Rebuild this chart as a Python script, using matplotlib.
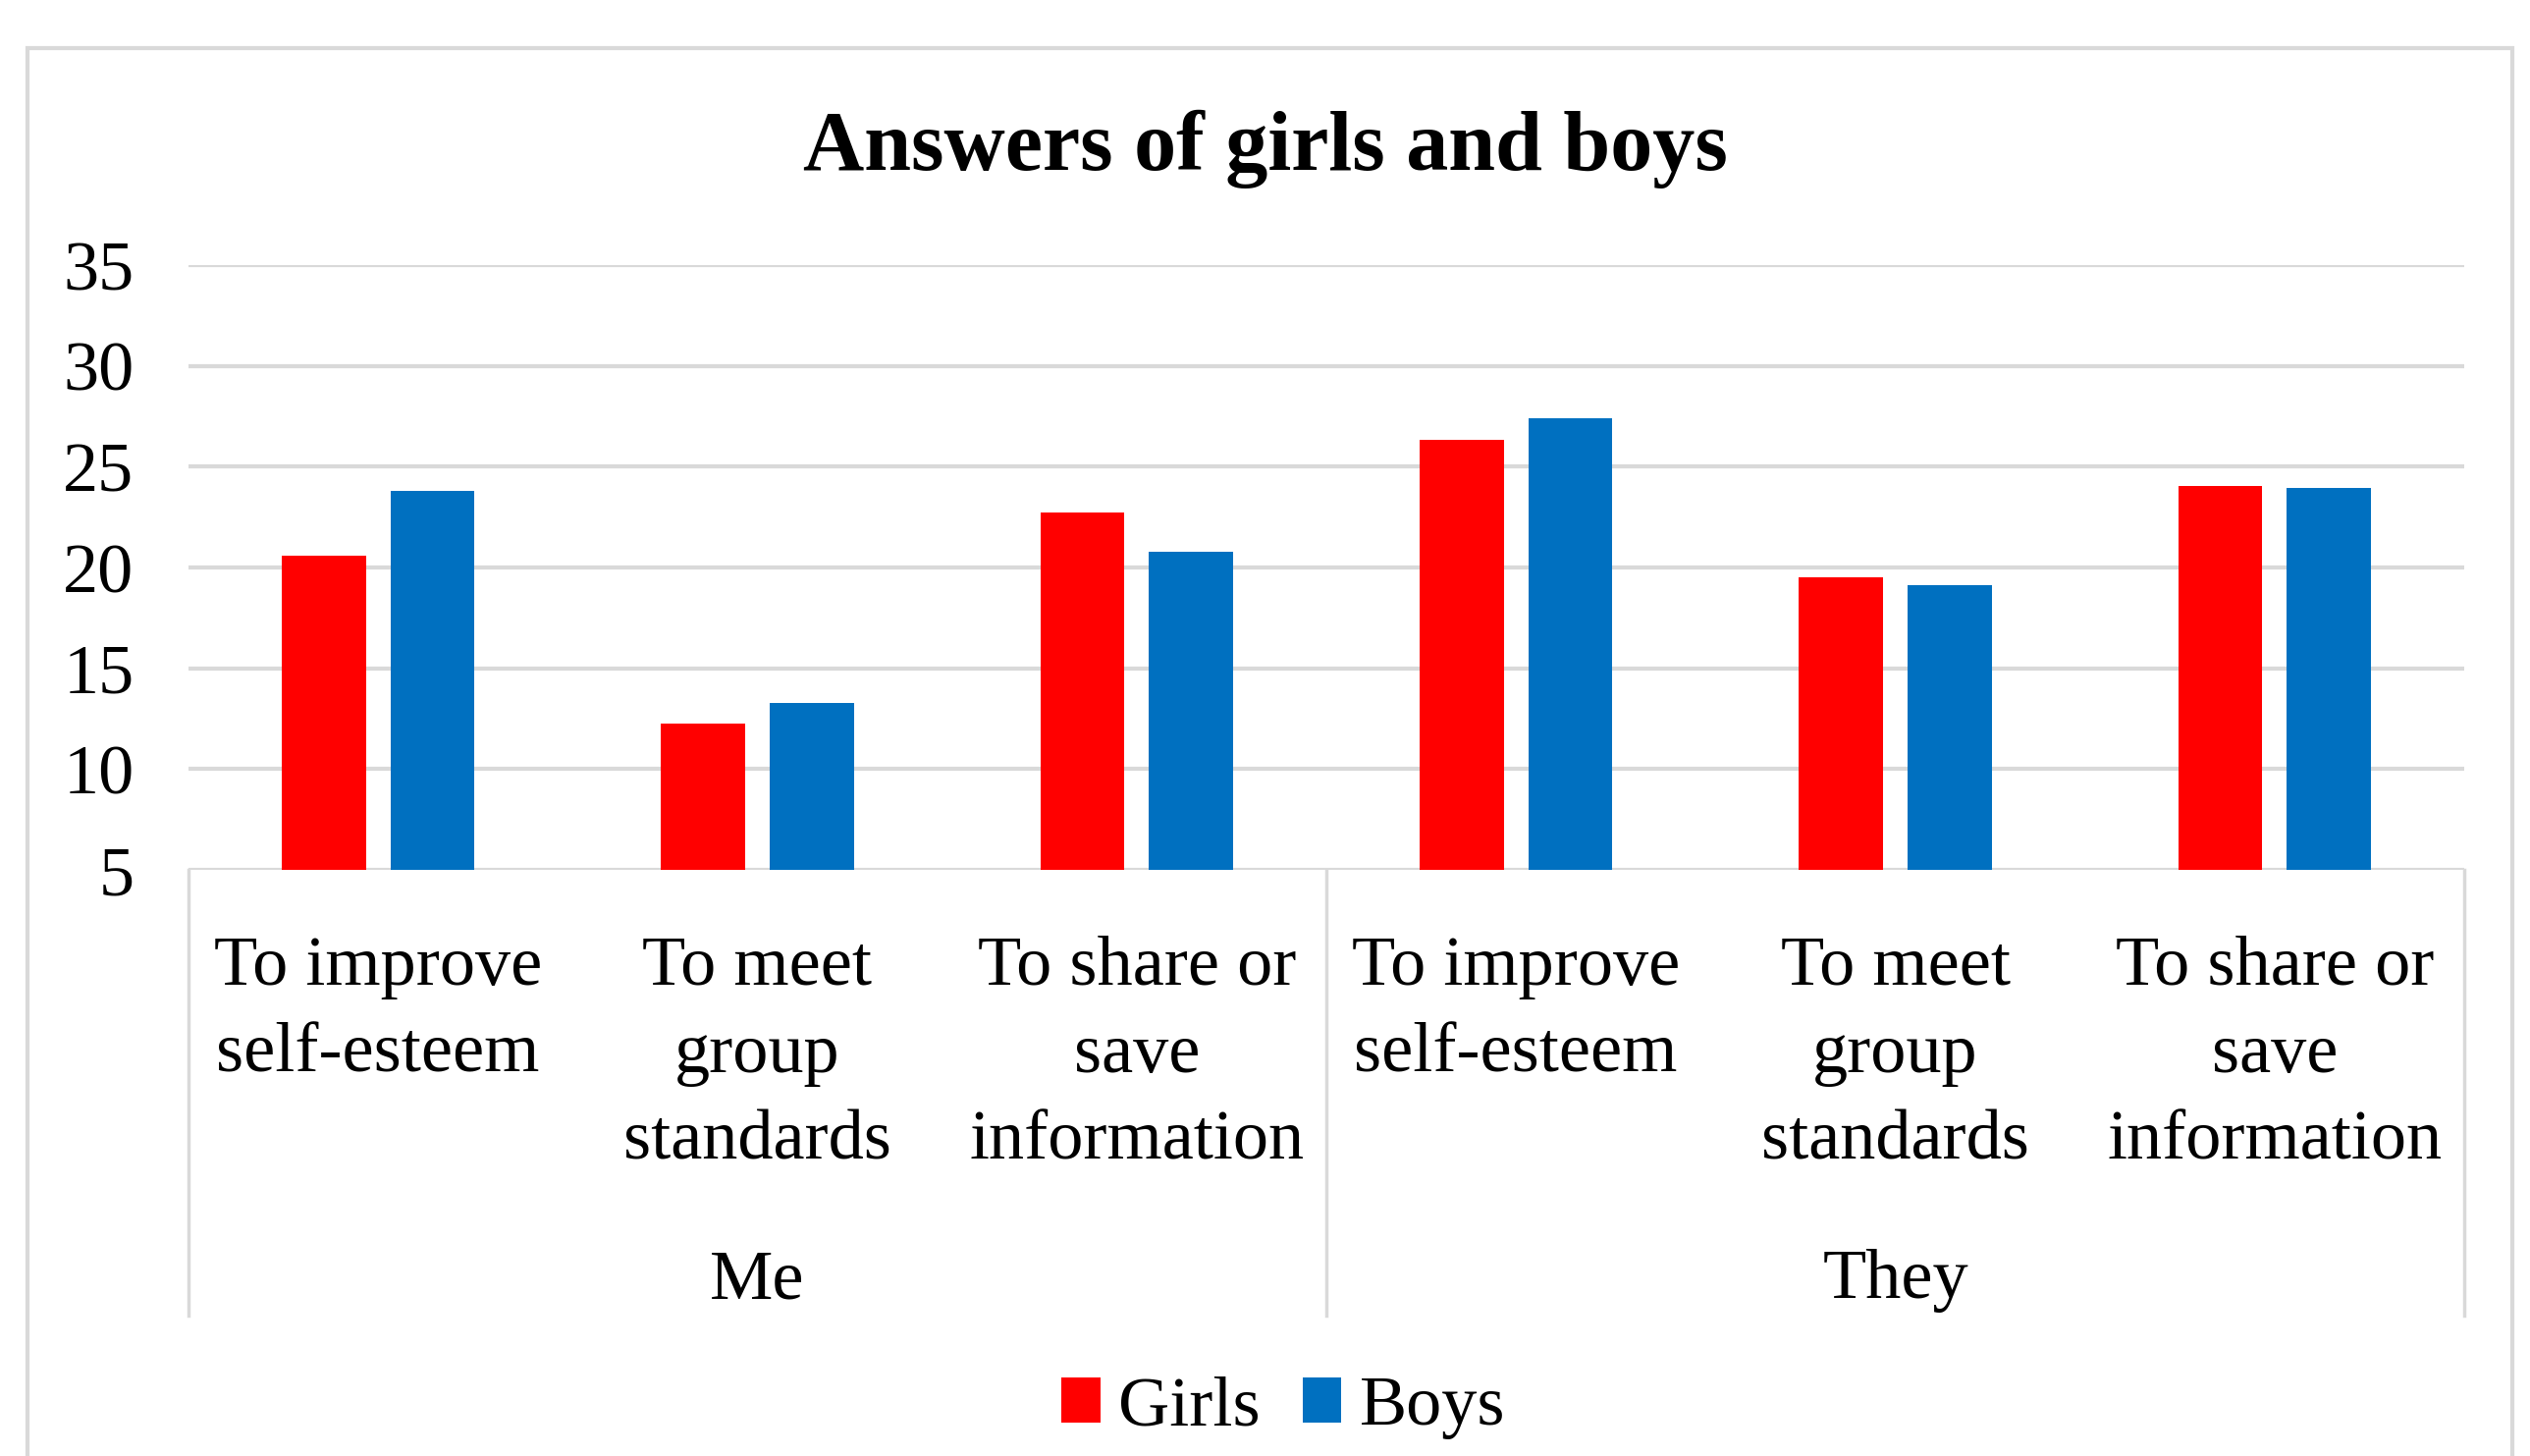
import matplotlib
matplotlib.use("Agg")
import matplotlib.pyplot as plt
from matplotlib.patches import Rectangle, Patch
from matplotlib.lines import Line2D
import numpy as np

# ---- data ----
title = "Answers of girls and boys"
categories = ["To improve\nself-esteem", "To meet\ngroup\nstandards", "To share or\nsave\ninformation",
              "To improve\nself-esteem", "To meet\ngroup\nstandards", "To share or\nsave\ninformation"]
groups = ["Me", "They"]
girls = [20.6, 12.25, 22.75, 26.35, 19.5, 24.05]
boys = [23.8, 13.3, 20.8, 27.4, 19.1, 23.95]
series_names = ["Girls", "Boys"]
yticks = [5, 10, 15, 20, 25, 30, 35]

RED = "#FF0000"
BLUE = "#0070C0"
GRID = "#D9D9D9"
FONT = "Liberation Serif"

W, H = 2577, 1483
fig = plt.figure(figsize=(W / 100, H / 100), dpi=100)
fig.patch.set_facecolor("white")

ax = fig.add_axes([192 / W, 1 - 886 / H, (2510 - 192) / W, (886 - 270) / H])
x = np.arange(len(categories))
bw = 0.222
off = 0.143
ax.bar(x - off, girls, bw, color=RED, bottom=0, zorder=3)
ax.bar(x + off, boys, bw, color=BLUE, bottom=0, zorder=3)
ax.set_xlim(-0.5, len(categories) - 0.5)
ax.set_ylim(5, 35)
ax.set_yticks(yticks)
ax.set_yticklabels([str(t) for t in yticks], fontfamily=FONT, fontsize=52)
ax.tick_params(axis="y", length=0, pad=40)
ax.set_xticks([])
for s in ax.spines.values():
    s.set_visible(False)
for t in yticks:
    ax.axhline(t, color=GRID, lw=3, zorder=1)

# category labels
for i, c in enumerate(categories):
    ax.text(i, -0.108, c, transform=ax.get_xaxis_transform(), ha="center", va="top",
            fontfamily=FONT, fontsize=52, linespacing=1.48)
# group labels
for gi, g in enumerate(groups):
    ax.text(gi * 3 + 1, -0.68, g, transform=ax.get_xaxis_transform(), ha="center", va="center",
            fontfamily=FONT, fontsize=52)
# separators
for xs in [-0.5, 2.5, 5.5]:
    ax.add_line(Line2D([xs, xs], [0, -0.737], transform=ax.get_xaxis_transform(),
                       color=GRID, lw=2.5, clip_on=False))

# title
fig.text(0.5, 1 - 152 / H, title, ha="center", va="center", fontfamily=FONT,
         fontsize=62, fontweight="bold")

# legend
handles = [Patch(facecolor=RED, edgecolor="none"), Patch(facecolor=BLUE, edgecolor="none")]
fig.legend(handles, series_names, loc="center", bbox_to_anchor=(1307 / W, 1 - 1434 / H),
           ncol=2, frameon=False, prop={"family": FONT, "size": 52},
           handlelength=0.55, handleheight=0.62, handletextpad=0.25, columnspacing=0.6)

# outer chart border
fig.add_artist(Rectangle((28 / W, -0.05), (2559 - 28) / W, 1.05 - 49 / H, transform=fig.transFigure,
                         fill=False, edgecolor=GRID, lw=3))

fig.savefig("out.png", dpi=100)
